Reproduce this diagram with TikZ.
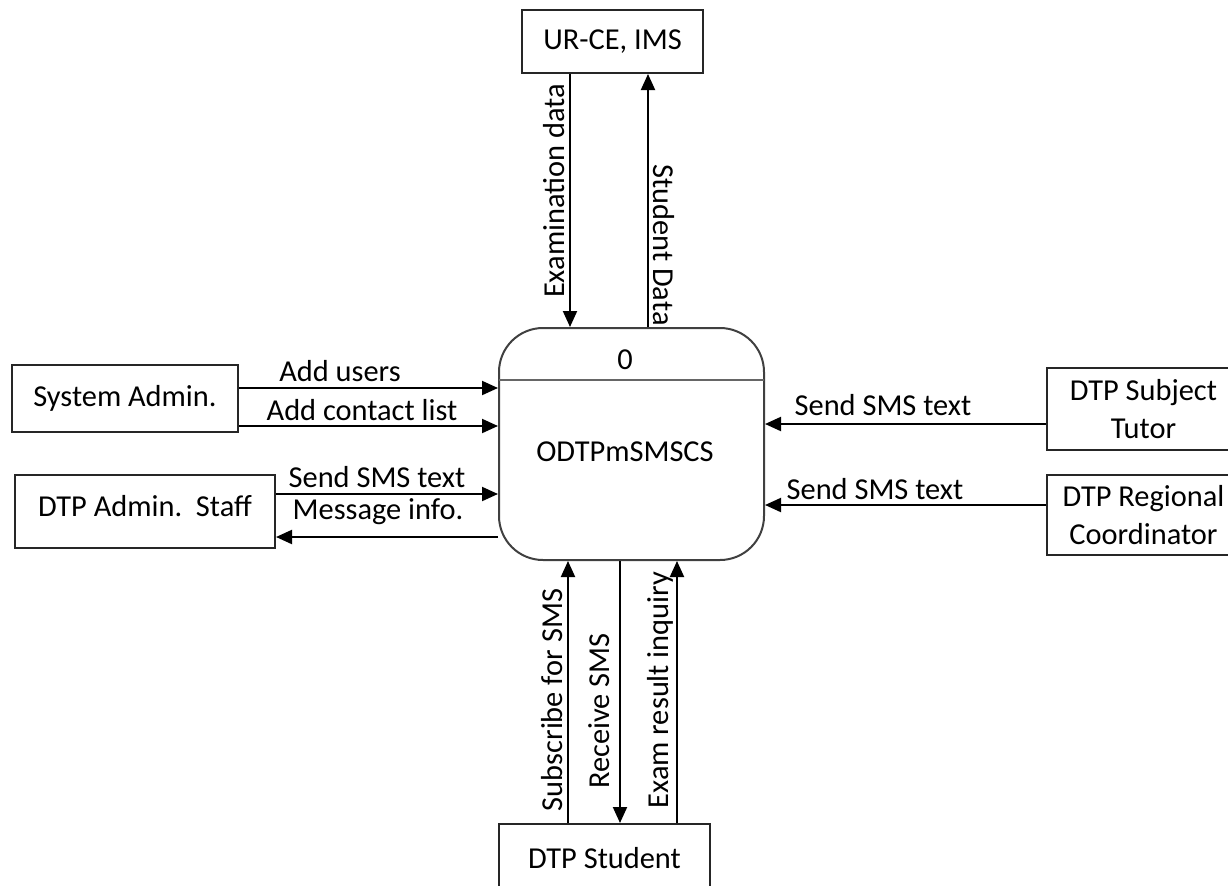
\documentclass[tikz,border=0pt]{standalone}
\usepackage{fontspec}
\setmainfont{Carlito}
\usetikzlibrary{arrows.meta}
\begin{document}
\begin{tikzpicture}[x=0.5pt,y=-0.5pt,
  font=\fontsize{15.2}{19}\selectfont,
  line width=1pt,
  entity/.style={draw=black!85, line width=1pt, inner sep=0pt, align=center},
  flow/.style={draw=black, line width=1pt, -{Triangle[length=8pt,width=7pt]}},
  lbl/.style={inner sep=0pt}]
\useasboundingbox (0,0) rectangle (1228,885);

% external entities
\node[entity, minimum width=90.5pt, minimum height=31.5pt] (ur) at (612.5,41.5) {UR-CE, IMS};
\node[entity, minimum width=113pt, minimum height=33.5pt] (sa) at (125,398.5) {System Admin.};
\node[entity, minimum width=130pt, minimum height=36.5pt, text depth=6pt] (st) at (145,511.5) {DTP Admin.\ \ Staff};
\node[entity, minimum width=97pt, minimum height=41pt] (tu) at (1143.5,409) {DTP Subject\\Tutor};
\node[entity, minimum width=97pt, minimum height=40pt] (rc) at (1143.5,515) {DTP Regional\\Coordinator};
\node[entity, minimum width=105.5pt, minimum height=34pt] (ds) at (604.5,858) {DTP Student};

% the process
\node[draw=black!75, line width=1pt, rounded corners=22pt, minimum width=132.5pt, minimum height=116pt, inner sep=0pt] (p) at (631.5,444) {};
\draw[black!60, line width=1pt] (499,380) coordinate (dl) -- (764,380) coordinate (dr);
\node[lbl] (pid) at (625,360) {0};
\node[lbl] (pname) at (625,452) {ODTPmSMSCS};

% column and row guides for the flows
\coordinate (c1) at (570,0);
\coordinate (c2) at (648,0);
\coordinate (c3) at (568,0);
\coordinate (c4) at (620,0);
\coordinate (c5) at (677,0);
\coordinate (r1) at (0,388);
\coordinate (r2) at (0,426);
\coordinate (r3) at (0,494);
\coordinate (r4) at (0,537);
\coordinate (r5) at (0,424);
\coordinate (r6) at (0,505);

% flows
\draw[flow] (ur.south -| c1) -- (p.north -| c1);
\draw[flow] (p.north -| c2) -- (ur.south -| c2);
\draw[flow] (sa.east |- r1) -- (p.west |- r1);
\draw[flow] (sa.east |- r2) -- (p.west |- r2);
\draw[flow] (st.east |- r3) -- (p.west |- r3);
\draw[flow] (p.west |- r4) -- (st.east |- r4);
\draw[flow] (tu.west |- r5) -- (p.east |- r5);
\draw[flow] (rc.west |- r6) -- (p.east |- r6);
\draw[flow] (ds.north -| c3) -- (p.south -| c3);
\draw[flow] (p.south -| c4) -- (ds.north -| c4);
\draw[flow] (ds.north -| c5) -- (p.south -| c5);

% flow labels
\node[lbl, rotate=90] (l1) at (554,191) {Examination data};
\node[lbl, rotate=-90] (l2) at (664,245) {Student Data};
\node[lbl] (l3) at (340,371) {Add users};
\node[lbl] (l4) at (362,410) {Add contact list};
\node[lbl] (l5) at (377,477) {Send SMS text};
\node[lbl] (l6) at (378,512) {Message info.};
\node[lbl] (l7) at (883,405) {Send SMS text};
\node[lbl] (l8) at (875,489) {Send SMS text};
\node[lbl, rotate=90] (l9) at (552,700) {Subscribe for SMS};
\node[lbl, rotate=90] (l10) at (599,711) {Receive SMS};
\node[lbl, rotate=90] (l11) at (660,690) {Exam result inquiry};
\end{tikzpicture}
\end{document}
